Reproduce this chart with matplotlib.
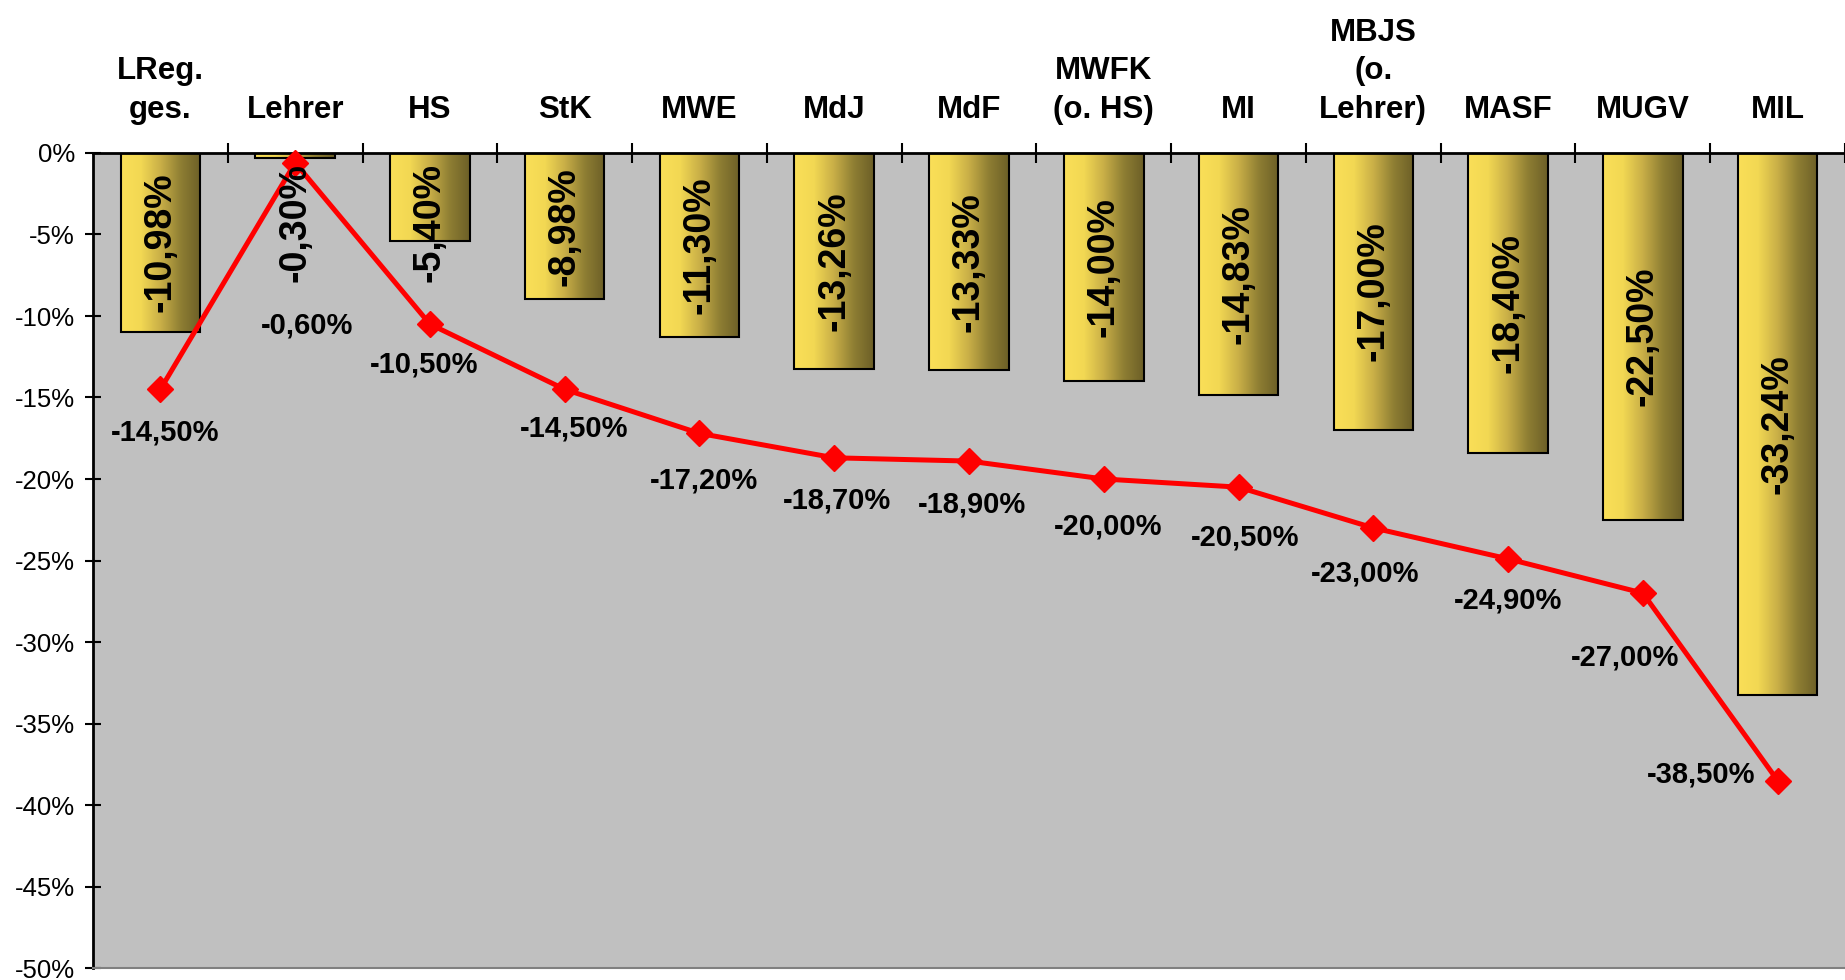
import numpy as np
import matplotlib
matplotlib.use("Agg")
import matplotlib.pyplot as plt
from matplotlib.colors import LinearSegmentedColormap
from matplotlib.ticker import FixedLocator, FuncFormatter

# --- data -------------------------------------------------------------
categories = ["LReg.\nges.", "Lehrer", "HS", "StK", "MWE", "MdJ", "MdF",
              "MWFK\n(o. HS)", "MI", "MBJS\n(o.\nLehrer)", "MASF", "MUGV", "MIL"]
bar_values = [-10.98, -0.30, -5.40, -8.98, -11.30, -13.26, -13.33,
              -14.00, -14.83, -17.00, -18.40, -22.50, -33.24]
line_values = [-14.50, -0.60, -10.50, -14.50, -17.20, -18.70, -18.90,
               -20.00, -20.50, -23.00, -24.90, -27.00, -38.50]
y_ticks = [0, -5, -10, -15, -20, -25, -30, -35, -40, -45, -50]

# label offsets (pixels, y up) for the line's value labels
line_label_offsets = [(5, -43), (12, -163), (-6, -40), (9, -39), (5, -47),
                      (3, -43), (3, -43), (4, -47), (7, -50), (-8, -46),
                      (0, -42), (-18, -64), (-76, 6)]

FONT = "Liberation Sans"
plt.rcParams["font.family"] = [FONT, "DejaVu Sans"]


def de_pct(v):
    return f"{v:.2f}".replace(".", ",") + "%"


W, H, DPI = 1845, 980, 100
fig = plt.figure(figsize=(W / DPI, H / DPI), dpi=DPI)
ax = fig.add_axes([93 / W, 1 - 968 / H, 1 - 93 / W, (968 - 153) / H])
ax.set_facecolor("#C0C0C0")

x = np.arange(len(categories))

# bars with horizontal yellow-to-olive gradient
grad_cmap = LinearSegmentedColormap.from_list(
    "gold", ["#FADF58", "#F2D853", "#C8AE47", "#8E7E33", "#6C5F27"])
gradient = np.linspace(0, 1, 256).reshape(1, -1)
bars = ax.bar(x, bar_values, width=0.59, color="none", edgecolor="black",
              linewidth=1.5, zorder=3)
for b in bars:
    x0, w = b.get_x(), b.get_width()
    y0, h = b.get_y(), b.get_height()
    im = ax.imshow(gradient, cmap=grad_cmap, aspect="auto",
                   extent=[x0, x0 + w, y0 + h, y0], zorder=2,
                   interpolation="bilinear")
    im.set_clip_path(b)
ax.set_xlim(-0.5, 12.478)
ax.set_ylim(-50, 0)

# line series
ax.plot(x, line_values, color="#FF0000", linewidth=3.6, marker="D",
        markersize=13, markeredgecolor="#FF0000", zorder=5, clip_on=False)

for xi, v, (dx, dy) in zip(x, line_values, line_label_offsets):
    ax.annotate(de_pct(v), (xi, v), xytext=(dx, dy),
                textcoords="offset pixels", ha="center", va="center",
                fontsize=21, fontweight="bold", zorder=6)

# bar value labels, rotated, centred in bar but kept inside the plot
bar_texts = []
for xi, v in zip(x, bar_values):
    t = ax.text(xi, v / 2, de_pct(v), rotation=90, ha="center", va="center",
                fontsize=27, fontweight="bold", zorder=6)
    bar_texts.append(t)

# axes styling
ax.spines["right"].set_visible(False)
ax.spines["top"].set_linewidth(2)
ax.spines["top"].set_color("black")
ax.spines["left"].set_linewidth(2)
ax.spines["left"].set_color("black")
ax.spines["bottom"].set_color("#808080")
ax.spines["bottom"].set_linewidth(1.5)

ax.yaxis.set_major_locator(FixedLocator(y_ticks))
ax.yaxis.set_major_formatter(FuncFormatter(lambda v, p: f"{int(round(v))}%"))
ax.tick_params(axis="y", direction="inout", length=12, width=1.5,
               labelsize=18.5, pad=7, colors="black")

ax.xaxis.tick_top()
ax.set_xticks(x)
ax.set_xticklabels(categories, fontsize=22.5, fontweight="bold",
                   linespacing=1.38)
ax.set_xticks(np.arange(len(categories)) + 0.5, minor=True)
ax.tick_params(axis="x", which="major", length=0, pad=20, top=True,
               bottom=False)
ax.tick_params(axis="x", which="minor", direction="inout", length=14,
               width=1.5, top=True, bottom=False, labeltop=False)

fig.canvas.draw()
renderer = fig.canvas.get_renderer()
ax_top = ax.transAxes.transform((0, 1))[1]
inv = ax.transData.inverted()
for t in bar_texts:
    bb = t.get_window_extent(renderer)
    limit = ax_top - 10
    if bb.y1 > limit:
        cx, cy = ax.transData.transform(t.get_position())
        new_cy = cy - (bb.y1 - limit)
        t.set_position(inv.transform((cx, new_cy)))

fig.savefig("out.png", dpi=DPI, facecolor="white")
